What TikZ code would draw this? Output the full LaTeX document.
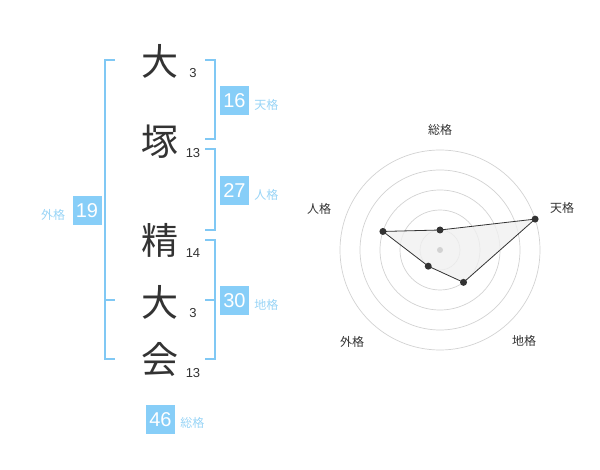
\documentclass[tikz,border=0pt]{standalone}
\usepackage{fontspec}
\setmainfont{Liberation Sans}
\newfontfamily\jpfont{Noto Sans CJK JP}
\usepackage{xcolor}
\usepackage{tikz}
\usetikzlibrary{positioning}

\definecolor{kakublue}{HTML}{87CEF8}
\definecolor{kakutext}{HTML}{98D4F6}
\definecolor{kakuline}{HTML}{80C8F4}
\definecolor{ringgray}{HTML}{D2D2D2}
\definecolor{inkdark}{HTML}{333333}

\tikzset{
  kanji/.style={font=\jpfont\fontsize{37}{40}\selectfont,text=inkdark,inner sep=0pt},
  strokes/.style={font=\fontsize{13}{15}\selectfont,text=inkdark,inner sep=0pt},
  kakubox/.style={fill=kakublue,text=white,minimum size=29pt,inner sep=0pt,font=\fontsize{20}{22}\selectfont},
  kakulabel/.style={font=\jpfont\fontsize{12}{14}\selectfont,text=kakutext,inner sep=0pt},
  bracket/.style={draw=kakuline,line width=2pt},
  ring/.style={draw=ringgray,line width=0.7pt},
  axislabel/.style={font=\jpfont\fontsize{12}{14}\selectfont,text=inkdark,inner sep=0pt}
}

\begin{document}
\begin{tikzpicture}[x=1pt,y=-1pt]
            \useasboundingbox (0,0) rectangle (600,470);

            \node[kanji] (c1) at (160,61) {大};
            \node[kanji] (c2) at (160,142) {塚};
            \node[kanji] (c3) at (160,240) {精};
            \node[kanji] (c4) at (160,302) {大};
            \node[kanji] (c5) at (160,360) {会};

            \node[strokes] (s1) at (193,73) {3};
            \node[strokes] (s2) at (193,153) {13};
            \node[strokes] (s3) at (193,253) {14};
            \node[strokes] (s4) at (193,313) {3};
            \node[strokes] (s5) at (193,373) {13};

            \draw[bracket] (115,60) -- (105,60) -- (105,359) -- (115,359);
            \draw[bracket] (105,300) -- (115,300);
            \draw[bracket] (205,60) -- (215,60) -- (215,139) -- (205,139);
            \draw[bracket] (205,149) -- (215,149) -- (215,230) -- (205,230);
            \draw[bracket] (205,240) -- (215,240) -- (215,359) -- (205,359);
            \draw[bracket] (205,300) -- (215,300);

            \node[kakubox] (ten) at (234.5,100.5) {16};
            \node[kakulabel,right=5pt of ten,yshift=-4pt] (tenlabel) {天格};
            \node[kakubox] (jin) at (234.5,190.5) {27};
            \node[kakulabel,right=5pt of jin,yshift=-4pt] (jinlabel) {人格};
            \node[kakubox] (chi) at (234.5,300.5) {30};
            \node[kakulabel,right=5pt of chi,yshift=-4pt] (chilabel) {地格};
            \node[kakubox] (gai) at (87,210.5) {19};
            \node[kakulabel,left=7pt of gai,yshift=-4pt] (gailabel) {外格};
            \node[kakubox] (sou) at (160.5,419.5) {46};
            \node[kakulabel,right=5pt of sou,yshift=-3pt] (soulabel) {総格};

            \begin{scope}[shift={(440,250)},y=1pt]
                \foreach \r in {20,40,60,80,100}
                    \draw[ring] (0,0) circle[radius=\r];

                \coordinate (rsou) at (90:20);
                \coordinate (rten) at (18:100);
                \coordinate (rchi) at (-54:40);
                \coordinate (rgai) at (-126:20);
                \coordinate (rjin) at (162:60);

                \fill[black!6,fill opacity=0.8] (rsou) -- (rten) -- (rchi) -- (rgai) -- (rjin) -- cycle;
                \draw[inkdark,line width=0.8pt] (rsou) -- (rten) -- (rchi) -- (rgai) -- (rjin) -- cycle;
                \fill[ringgray] (0,0) circle[radius=3];
                \foreach \p in {rsou,rten,rchi,rgai,rjin}
                    \fill[inkdark] (\p) circle[radius=3.5];

                \node[axislabel] (lsou) at (0,120) {総格};
                \node[axislabel] (lten) at (122,42) {天格};
                \node[axislabel] (ljin) at (-121,41) {人格};
                \node[axislabel] (lgai) at (-88,-92) {外格};
                \node[axislabel] (lchi) at (84,-91) {地格};
            \end{scope}
        \end{tikzpicture}
\end{document}
